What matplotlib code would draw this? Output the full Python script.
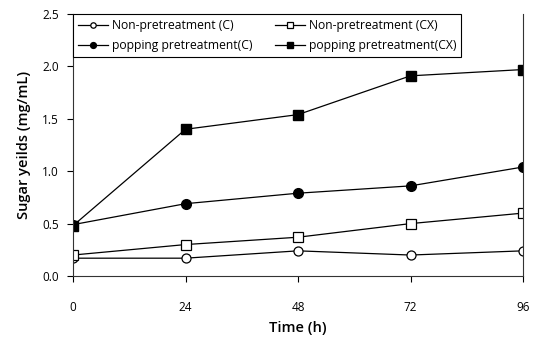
import matplotlib
matplotlib.use("Agg")
import matplotlib.pyplot as plt

plt.rcParams['font.family'] = ['Open Sans', 'DejaVu Sans']

time_h = [0, 24, 48, 72, 96]
non_c = [0.17, 0.17, 0.24, 0.20, 0.24]
non_cx = [0.20, 0.30, 0.37, 0.50, 0.60]
pop_c = [0.49, 0.69, 0.79, 0.86, 1.04]
pop_cx = [0.48, 1.40, 1.54, 1.91, 1.97]

labels = ["Non-pretreatment (C)", "popping pretreatment(C)",
          "Non-pretreatment (CX)", "popping pretreatment(CX)"]

fig = plt.figure(figsize=(5.38, 3.39), dpi=100)
ax = fig.add_axes([73/538, 1-276/339, (523-73)/538, (276-14)/339])

lw = 0.9
ms = 6.5
l1, = ax.plot(time_h, non_c, '-o', color='black', mfc='white', mec='black', ms=ms, lw=lw, mew=0.9, label=labels[0])
l3, = ax.plot(time_h, non_cx, '-s', color='black', mfc='white', mec='black', ms=ms, lw=lw, mew=0.9, label=labels[2])
l2, = ax.plot(time_h, pop_c, '-o', color='black', mfc='black', mec='black', ms=ms+0.5, lw=lw, label=labels[1])
l4, = ax.plot(time_h, pop_cx, '-s', color='black', mfc='black', mec='black', ms=ms+0.5, lw=lw, label=labels[3])

ax.set_xlim(0, 96)
ax.set_ylim(0, 2.5)
ax.set_xticks(time_h)
ax.set_yticks([0.0, 0.5, 1.0, 1.5, 2.0, 2.5])
ax.set_yticklabels(["0.0", "0.5", "1.0", "1.5", "2.0", "2.5"])
ax.tick_params(direction='out', length=4, width=0.8, labelsize=8.5, pad=6)
ax.tick_params(axis='x', pad=14)
ax.spines['top'].set_visible(False)
for s in ['left', 'bottom', 'right']:
    ax.spines[s].set_linewidth(0.8)
    ax.spines[s].set_color('#333333')

ax.set_xlabel("Time (h)", fontsize=10.5, fontweight='semibold', labelpad=5)
ax.set_ylabel("Sugar yeilds (mg/mL)", fontsize=10.5, fontweight='semibold', labelpad=8)

leg = ax.legend([l1, l2, l3, l4], labels, ncol=2, loc='upper left',
                bbox_to_anchor=(0, 1), borderaxespad=0, fontsize=8.7,
                markerscale=0.6, handlelength=2.5, handletextpad=0.3,
                columnspacing=1.9, fancybox=False, framealpha=1,
                edgecolor='black', labelspacing=0.6, borderpad=0.4)
leg.get_frame().set_linewidth(0.8)

fig.savefig("out.png", dpi=100)
